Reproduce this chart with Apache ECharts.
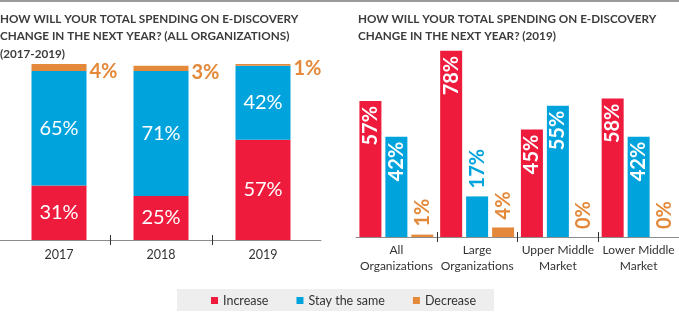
<!DOCTYPE html>
<html>
<head>
<meta charset="utf-8">
<script src="https://cdn.jsdelivr.net/npm/echarts@6/dist/echarts.min.js"></script>
<style>
html,body{margin:0;padding:0;background:#fff;}
#chart{width:679px;height:326px;}
</style>
</head>
<body>
<div id="chart"></div>
<script>
// ---- data ----
const yearCategories = ['2017', '2018', '2019'];
const yearIncrease = [31, 25, 57];
const yearStay = [65, 71, 42];
const yearDecrease = [4, 3, 1];

const orgCategories = ['All\nOrganizations', 'Large\nOrganizations', 'Upper Middle\nMarket', 'Lower Middle\nMarket'];
const orgIncrease = [57, 78, 45, 58];
const orgStay = [42, 17, 55, 42];
const orgDecrease = [1, 4, 0, 0];

const seriesNames = ['Increase', 'Stay the same', 'Decrease'];
const leftTitle = 'HOW WILL YOUR TOTAL SPENDING ON E-DISCOVERY\nCHANGE IN THE NEXT YEAR? (ALL ORGANIZATIONS)\n(2017-2019)';
const rightTitle = 'HOW WILL YOUR TOTAL SPENDING ON E-DISCOVERY\nCHANGE IN THE NEXT YEAR? (2019)';

// ---- styles ----
const RED = '#ee1b3d', BLUE = '#00a3dc', ORANGE = '#e4893a';
const FONT = 'Lato, "Open Sans", sans-serif';
const AXIS_GRAY = '#8c8c8c';

const chart = echarts.init(document.getElementById('chart'), null, {renderer: 'canvas'});

const pct = p => p.value + '%';

const leftInside = {show: true, position: 'inside', color: '#fff', fontSize: 20, fontFamily: FONT, formatter: pct};
const rotInside = {show: true, position: 'insideTop', rotate: 90, align: 'right', verticalAlign: 'middle', distance: 5, color: '#fff', fontSize: 20, fontWeight: 'bold', fontFamily: FONT, formatter: pct};
const rotOutside = color => ({show: true, position: 'top', rotate: 90, align: 'left', verticalAlign: 'middle', distance: 8, color: color, fontSize: 20, fontWeight: 'bold', fontFamily: FONT, formatter: pct});

// Blue values small enough to be labelled above the bar
const orgStayData = orgStay.map(v => v < 30 ? {value: v, label: rotOutside(BLUE)} : v);

const tickAxis = (gridIndex, n, offset) => ({
  type: 'value', gridIndex, position: 'bottom', offset: offset,
  min: 0, max: n, interval: n,
  axisLine: {show: false}, axisTick: {show: false}, axisLabel: {show: false}, splitLine: {show: false},
  minorTick: {show: true, splitNumber: n, length: 10, lineStyle: {color: '#333', width: 1}},
  minorSplitLine: {show: false}
});

const titleStyle = {fontFamily: FONT, fontSize: 11.7, fontWeight: 'bold', color: '#3c3c3c', lineHeight: 17.5};

const option = {
  backgroundColor: '#fff',
  animation: false,
  textStyle: {fontFamily: FONT},
  graphic: [
    {type: 'rect', left: 0, top: 0, shape: {width: 679, height: 2}, style: {fill: '#9a9a9a'}}
  ],
  title: [
    {text: leftTitle, left: 0, top: 10, padding: 0, textStyle: titleStyle},
    {text: rightTitle, left: 358, top: 10, padding: 0, textStyle: titleStyle}
  ],
  legend: {
    data: seriesNames,
    left: 177, top: 289,
    padding: [5, 18, 4, 34],
    backgroundColor: '#eeeeee',
    itemWidth: 7, itemHeight: 7, itemGap: 28,
    icon: 'rect',
    textStyle: {fontFamily: FONT, fontSize: 12.5, color: '#333'}
  },
  grid: [
    {left: 8, width: 306, top: 64, height: 176},
    {left: 0, width: 321, top: 64, height: 176},
    {left: 356, width: 324, top: 46, height: 191}
  ],
  xAxis: [
    {type: 'category', gridIndex: 0, data: yearCategories,
     axisLine: {show: false}, axisTick: {show: false},
     axisLabel: {margin: 8, fontSize: 12.5, color: '#333', fontFamily: FONT}},
    {type: 'value', gridIndex: 1, min: 0, max: 1, interval: 1,
     axisLine: {show: true, onZero: false, lineStyle: {color: AXIS_GRAY, width: 1}},
     axisTick: {show: false}, axisLabel: {show: false}, splitLine: {show: false}},
    tickAxis(0, 3, -5),
    {type: 'category', gridIndex: 2, data: orgCategories,
     axisLine: {show: true, lineStyle: {color: AXIS_GRAY, width: 1}}, axisTick: {show: false},
     axisLabel: {margin: 5, fontSize: 12, lineHeight: 16, color: '#333', fontFamily: FONT, interval: 0}},
    tickAxis(2, 4, -5)
  ],
  yAxis: [
    {type: 'value', gridIndex: 0, min: 0, max: 100, show: false},
    {type: 'value', gridIndex: 1, min: 0, max: 1, show: false},
    {type: 'value', gridIndex: 2, min: 0, max: 80, show: false}
  ],
  series: [
    {name: 'Increase', type: 'bar', stack: 'yr', xAxisIndex: 0, yAxisIndex: 0, data: yearIncrease,
     barWidth: 55, itemStyle: {color: RED}, label: leftInside},
    {name: 'Stay the same', type: 'bar', stack: 'yr', xAxisIndex: 0, yAxisIndex: 0, data: yearStay,
     barWidth: 55, itemStyle: {color: BLUE}, label: leftInside},
    {name: 'Decrease', type: 'bar', stack: 'yr', xAxisIndex: 0, yAxisIndex: 0, data: yearDecrease,
     barWidth: 55, itemStyle: {color: ORANGE},
     label: {show: true, position: 'right', distance: 3, offset: [0, 4], color: ORANGE, fontSize: 20, fontWeight: 'bold', fontFamily: FONT, formatter: pct}},

    {name: 'Increase', type: 'bar', xAxisIndex: 3, yAxisIndex: 2, data: orgIncrease,
     barWidth: 22, barGap: '18%', itemStyle: {color: RED}, label: rotInside},
    {name: 'Stay the same', type: 'bar', xAxisIndex: 3, yAxisIndex: 2, data: orgStayData,
     barWidth: 22, barGap: '18%', itemStyle: {color: BLUE}, label: rotInside},
    {name: 'Decrease', type: 'bar', xAxisIndex: 3, yAxisIndex: 2, data: orgDecrease,
     barWidth: 22, barGap: '18%', itemStyle: {color: ORANGE}, label: rotOutside(ORANGE)}
  ]
};

chart.setOption(option);
</script>
</body>
</html>
